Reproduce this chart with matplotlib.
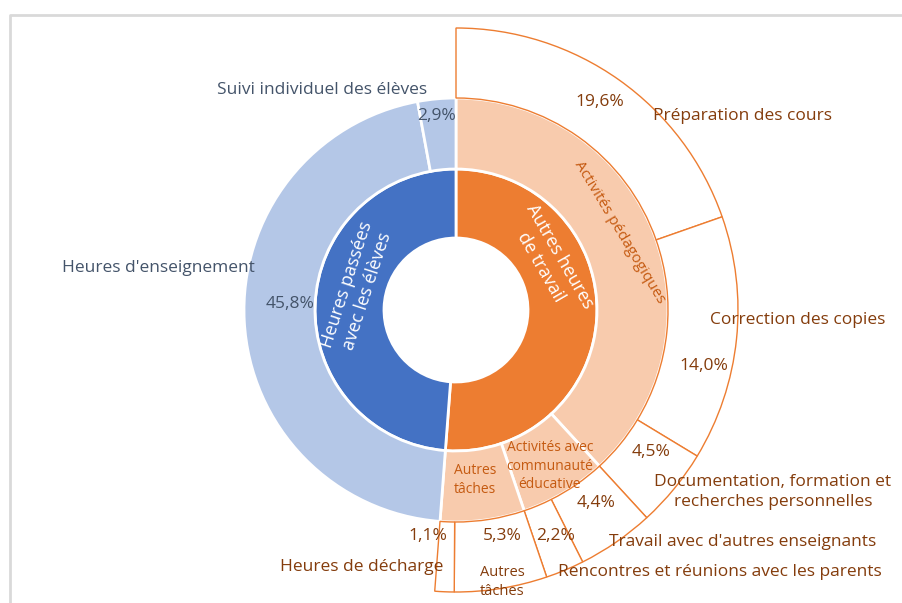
import matplotlib.pyplot as plt

plt.rcParams['font.family'] = ['Open Sans', 'DejaVu Sans']

# feuilles (anneau extérieur), côté "Autres heures de travail"
feuilles = ["Préparation des cours", "Correction des copies",
            "Documentation, formation et\nrecherches personnelles",
            "Travail avec d'autres enseignants",
            "Rencontres et réunions avec les parents",
            "Autres\ntâches", "Heures de décharge"]
valeurs_feuilles = [19.6, 14.0, 4.5, 4.4, 2.2, 5.3, 1.1]

# anneau du milieu
groupes = ["Activités pédagogiques", "Activités avec\ncommunauté\néducative",
           "Autres\ntâches", "Heures d'enseignement", "Suivi individuel des élèves"]
valeurs_groupes = [sum(valeurs_feuilles[0:3]), sum(valeurs_feuilles[3:5]),
                   sum(valeurs_feuilles[5:7]), 45.8, 2.9]

# anneau intérieur
centres = ["Autres heures\nde travail", "Heures passées\navec les élèves"]
valeurs_centres = [sum(valeurs_groupes[0:3]), sum(valeurs_groupes[3:5])]

BLEU, ORANGE = '#4472C4', '#ED7D31'
BLEU_CLAIR, PECHE = '#B4C7E7', '#F8CBAD'
BRUN, ORANGE_FONCE, GRIS = '#843C0C', '#C55A11', '#44546A'

W, H = 903, 603
fig = plt.figure(figsize=(W / 100, H / 100), dpi=100)
ax = fig.add_axes([0, 0, 1, 1])

cx, cy = 456, H - 310
r0, r1, r2, r3 = 72, 141, 212, 282

ax.pie(valeurs_centres, radius=r1, center=(cx, cy), startangle=90, counterclock=False,
       colors=[ORANGE, BLEU], wedgeprops=dict(width=r1 - r0, edgecolor='white', linewidth=2))
ax.pie(valeurs_groupes, radius=r2, center=(cx, cy), startangle=90, counterclock=False,
       colors=[PECHE, PECHE, PECHE, BLEU_CLAIR, BLEU_CLAIR],
       wedgeprops=dict(width=r2 - r1, edgecolor='white', linewidth=2))
ext, _ = ax.pie(valeurs_feuilles + [valeurs_centres[1]], radius=r3, center=(cx, cy),
                startangle=90, counterclock=False,
                wedgeprops=dict(width=r3 - r2, linewidth=1))
for i, w in enumerate(ext):
    if i < len(valeurs_feuilles):
        w.set_facecolor('white')
        w.set_edgecolor(ORANGE)
    else:
        w.set_facecolor('none')
        w.set_edgecolor('none')

ax.set_xlim(0, W)
ax.set_ylim(0, H)
ax.set_aspect('equal')
ax.axis('off')

# cadre de la zone de graphique
ax.plot([10, 10, W], [0, H - 15, H - 15], color='#D9D9D9', lw=2, solid_capstyle='butt')


def txt(x, y, s, c, size=12.5, rot=0, **kw):
    ax.text(x, H - y, s, color=c, fontsize=size, rotation=rot, ha='center', va='center',
            linespacing=1.3, rotation_mode='anchor', **kw)


def pct(v):
    return f"{v:.1f}%".replace('.', ',')


# anneau intérieur
txt(550, 262, centres[0], 'white', 13, rot=-60)
txt(357, 288, centres[1], 'white', 13, rot=72)

# anneau du milieu
txt(620, 232, groupes[0], ORANGE_FONCE, 11, rot=-59)
txt(550, 466, groupes[1], ORANGE_FONCE, 10)
txt(475, 480, groupes[2], ORANGE_FONCE, 10)
txt(158, 268, groupes[3], GRIS)
txt(290, 304, pct(valeurs_groupes[3]), GRIS)
txt(322, 90, groupes[4], GRIS)
txt(437, 116, pct(valeurs_groupes[4]), GRIS)

# anneau extérieur
noms_pos = [(743, 116), (798, 320), (773, 492), (743, 542), (720, 572), (502, 582), (362, 567)]
pct_pos = [(600, 102), (704, 366), (651, 452), (596, 503), (556, 536), (502, 536), (428, 536)]
for i, v in enumerate(valeurs_feuilles):
    taille = 10.5 if i == 5 else 12.5
    txt(*noms_pos[i], feuilles[i], BRUN, taille)
    txt(*pct_pos[i], pct(v), BRUN)

fig.savefig("out.png", dpi=100)
